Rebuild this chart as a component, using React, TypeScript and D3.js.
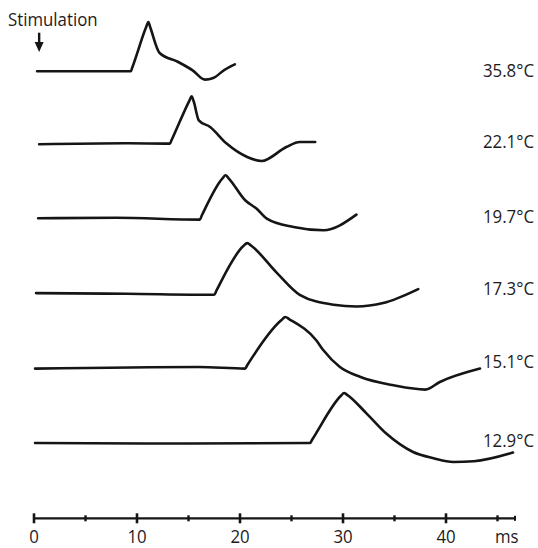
import React from "react";
import * as d3 from "d3";

// Temperatures (labels) for each trace, top to bottom
const temperatures = ["35.8°C", "22.1°C", "19.7°C", "17.3°C", "15.1°C", "12.9°C"];
// Baseline offsets of each trace (arbitrary amplitude units)
const offsets = [44.7, 37.4, 30.0, 22.5, 15.0, 7.5];
// Label vertical positions (same units)
const labelLevels = [44.16, 37.0, 29.5, 22.33, 15.0, 7.18];

// Traces: time (ms) and amplitude (arbitrary units, relative to baseline)
const t358 = [0.3, 9.4, 9.55, 10.9, 11.1, 11.3, 12.2, 14.0, 15.4, 16.6, 17.4, 18.5, 19.5];
const a358 = [0, 0, 0.4, 4.45, 4.93, 4.35, 1.83, 0.93, 0.1, -0.83, -0.67, 0.15, 0.7];

const t221 = [0.5, 8.8, 13.2, 13.35, 15.1, 15.3, 15.5, 16.0, 17.1, 18.7, 20.7, 22.1, 24.5, 25.8, 27.3];
const a221 = [0, 0.1, 0.07, 0.4, 4.4, 4.8, 4.3, 2.4, 1.73, 0.07, -1.27, -1.67, -0.27, 0.23, 0.23];

const t197 = [0.4, 8.0, 16.1, 16.3, 18.3, 18.6, 18.9, 20.5, 21.6, 22.6, 25.2, 28.1, 31.3];
const a197 = [0, 0.05, -0.13, 0.3, 4.0, 4.3, 4.0, 1.8, 0.97, -0.03, -0.87, -1.2, 0.37];

const t173 = [0.2, 9.0, 17.5, 17.7, 20.3, 20.7, 21.1, 23.6, 25.8, 29.1, 31.3, 33.9, 37.3];
const a173 = [0.02, -0.05, -0.15, 0.25, 4.7, 5.02, 4.75, 2.02, -0.15, -1.15, -1.32, -0.98, 0.42];

const t151 = [0.1, 16.0, 20.5, 20.7, 24.0, 24.4, 24.8, 27.4, 28.1, 29.7, 31.7, 34.9, 38.0, 39.4, 43.3];
const a151 = [-0.03, 0.13, -0.03, 0.3, 4.8, 5.13, 4.9, 2.8, 1.8, 0.13, -0.87, -1.7, -2.13, -1.37, -0.03];

const t129 = [0.1, 15.0, 26.8, 27.0, 29.8, 30.1, 30.4, 32.3, 34.2, 36.8, 38.8, 40.7, 42.7, 46.5];
const a129 = [0.03, -0.02, 0.03, 0.35, 4.75, 5.03, 4.85, 2.97, 0.97, -0.87, -1.5, -1.87, -1.8, -0.93];

const traceTimes = [t358, t221, t197, t173, t151, t129];
const traceAmps = [a358, a221, a197, a173, a151, a129];

// Axis ticks
const majorTicks = [0, 10, 20, 30, 40];
const minorTicks = [5, 15, 25, 35, 45];
const axisEnd = 46.7;
const axisUnit = "ms";
const stimulusLabel = "Stimulation";
const stimulusTime = 0.5;

const W = 538;
const H = 548;
const FONT = "'Open Sans', 'Noto Sans', sans-serif";
const INK = "#151515";
const TEXT = "#1f1b1c";

function Label({
  x,
  y,
  anchor = "start",
  children,
}: {
  x: number;
  y: number;
  anchor?: "start" | "middle" | "end";
  children: React.ReactNode;
}) {
  return (
    <g transform={`translate(${x},${y}) scale(0.91,1)`}>
      <text x={0} y={0} textAnchor={anchor} fontFamily={FONT} fontSize={18.5} fill={TEXT}>
        {children}
      </text>
    </g>
  );
}

export default function App() {
  const x = d3.scaleLinear().domain([0, 40]).range([34, 446]);
  const y = d3.scaleLinear().domain([0, 50]).range([518.3, 18.3]);

  const line = d3
    .line<[number, number]>()
    .x((d) => x(d[0]))
    .y((d) => y(d[1]))
    .curve(d3.curveMonotoneX);

  const axisY = y(0);
  const arrowX = x(stimulusTime);

  return (
    <svg
      width={W}
      height={H}
      style={{ position: "absolute", left: 0, top: 0, background: "#fff" }}
    >
      <rect x={0} y={0} width={W} height={H} fill="#fff" />
      {traceTimes.map((ts, i) => {
        const pts: [number, number][] = ts.map((t, j) => [t, offsets[i] + traceAmps[i][j]]);
        return (
          <path
            key={i}
            d={line(pts) || ""}
            fill="none"
            stroke={INK}
            strokeWidth={2.6}
            strokeLinejoin="round"
            strokeLinecap="round"
          />
        );
      })}
      {temperatures.map((lab, i) => (
        <Label key={lab} x={534} y={y(labelLevels[i])} anchor="end">
          {lab}
        </Label>
      ))}
      {/* Stimulation label and arrow */}
      <Label x={8} y={26}>
        {stimulusLabel}
      </Label>
      <line x1={arrowX} x2={arrowX} y1={32.7} y2={43} stroke={INK} strokeWidth={2.4} />
      <path d={`M${arrowX - 4.5},42 L${arrowX + 4.5},42 L${arrowX},52 Z`} fill={INK} />
      {/* Time axis */}
      <line x1={x(0)} x2={x(axisEnd)} y1={axisY} y2={axisY} stroke={INK} strokeWidth={2.2} />
      {majorTicks.map((t) => (
        <line
          key={"M" + t}
          x1={x(t)}
          x2={x(t)}
          y1={axisY - 5}
          y2={axisY + 5}
          stroke={INK}
          strokeWidth={2.6}
        />
      ))}
      {minorTicks.map((t) => (
        <line
          key={"m" + t}
          x1={x(t)}
          x2={x(t)}
          y1={axisY - 3}
          y2={axisY + 3}
          stroke={INK}
          strokeWidth={2.4}
        />
      ))}
      <line
        x1={x(axisEnd)}
        x2={x(axisEnd)}
        y1={axisY - 2.5}
        y2={axisY + 2.5}
        stroke={INK}
        strokeWidth={2}
      />
      {majorTicks.map((t) => (
        <Label key={"l" + t} x={x(t)} y={543} anchor="middle">
          {t}
        </Label>
      ))}
      <Label x={495} y={543}>
        {axisUnit}
      </Label>
    </svg>
  );
}
